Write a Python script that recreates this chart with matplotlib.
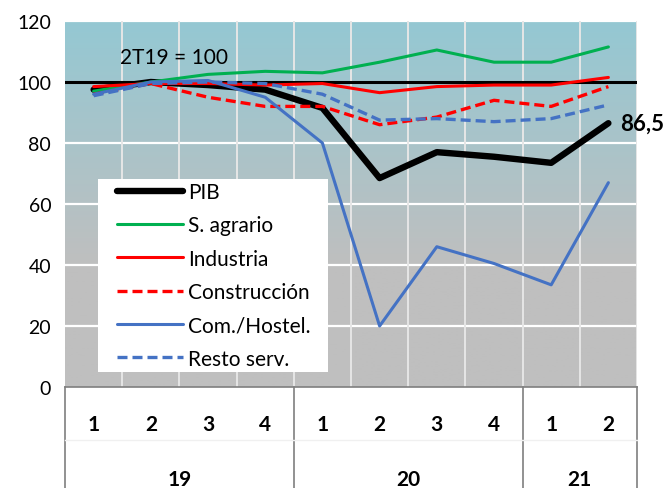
import numpy as np
import matplotlib

matplotlib.use("Agg")
import matplotlib.pyplot as plt
from matplotlib.colors import LinearSegmentedColormap
from matplotlib.patches import Rectangle

plt.rcParams["font.family"] = ["Lato", "DejaVu Sans"]

quarters = ["1", "2", "3", "4", "1", "2", "3", "4", "1", "2"]
years = ["19", "20", "21"]
year_spans = [4, 4, 2]

pib = [97.5, 100, 99, 97.5, 91.5, 68.5, 77, 75.5, 73.5, 86.5]
agrario = [97, 100, 102.5, 103.5, 103, 106.5, 110.5, 106.5, 106.5, 111.5]
industria = [98.5, 99.5, 99.5, 99, 99.5, 96.5, 98.5, 99, 99, 101.5]
construccion = [96, 99.5, 95, 92, 92, 86, 88.5, 94, 92, 98.5]
comercio = [96, 100, 100.5, 95, 80, 20, 46, 40.5, 33.5, 67]
resto = [95.5, 99.5, 100, 99.5, 96, 87.5, 88, 87, 88, 92.5]

dash = (0, (3.0, 1.5))
series = [
    ("PIB", pib, "black", "-", 4.6),
    ("S. agrario", agrario, "#00b050", "-", 2.2),
    ("Industria", industria, "#ff0000", "-", 2.2),
    ("Construcción", construccion, "#ff0000", dash, 2.4),
    ("Com./Hostel.", comercio, "#4472c4", "-", 2.2),
    ("Resto serv.", resto, "#4472c4", dash, 2.4),
]

fig = plt.figure(figsize=(6.67, 4.89), dpi=100)
ax = fig.add_axes([0.0975, 0.2065, 0.8575, 0.7485])
n = len(quarters)
x = np.arange(n)
ax.set_xlim(-0.5, n - 0.5)
ax.set_ylim(0, 120)

# background gradient: teal at top fading to grey around 40
cmap = LinearSegmentedColormap.from_list(
    "bg", [(0.0, "#bfbfbf"), (0.33, "#bfbfbf"), (1.0, "#94c8d3")]
)
grad = np.linspace(0, 1, 256).reshape(-1, 1)
ax.imshow(grad, extent=(-0.5, n - 0.5, 0, 120), origin="lower",
          aspect="auto", cmap=cmap, zorder=0)

for yv in [20, 40, 60, 80, 120]:
    ax.axhline(yv, color="white", lw=1.6, zorder=1)
for xv in np.arange(0.5, n - 0.5):
    ax.axvline(xv, color="#e6e6e6", lw=1.4, zorder=1)
ax.axvline(n - 0.5, color="#e6e6e6", lw=1.4, zorder=1)

ax.axhline(100, color="black", lw=2.2, zorder=2)

for label, vals, color, ls, lw in series:
    ax.plot(x, vals, color=color, ls=ls, lw=lw, label=label, zorder=3,
            solid_capstyle="round")

ax.text(1.4, 108.3, "2T19 = 100", fontsize=15, ha="center", va="center",
        zorder=4)
ax.text(n - 1 + 0.2, pib[-1], "86,5", fontsize=16, fontweight="bold",
        ha="left", va="center", clip_on=False, zorder=4)

ax.set_yticks(range(0, 121, 20))
ax.tick_params(axis="y", length=0, labelsize=14, pad=10)
ax.set_xticks([])
for s in ["top", "right", "left"]:
    ax.spines[s].set_visible(False)
ax.spines["bottom"].set_color("#7f7f7f")
ax.spines["bottom"].set_linewidth(1.2)

# two-level category axis drawn as a table below the plot
tr = ax.get_xaxis_transform()
for xi, q in zip(x, quarters):
    ax.text(xi, -0.1, q, transform=tr, ha="center", va="center",
            fontsize=15, fontweight="bold")
start = 0
bounds = [-0.5]
for yr, span in zip(years, year_spans):
    centre = start + (span - 1) / 2
    ax.text(centre, -0.25, yr, transform=tr, ha="center", va="center",
            fontsize=15, fontweight="bold")
    start += span
    bounds.append(start - 0.5)
for b in bounds:
    ax.plot([b, b], [0, -0.3], transform=tr, color="#7f7f7f", lw=1.2,
            clip_on=False)
ax.plot([-0.5, n - 0.5], [-0.145, -0.145], transform=tr, color="#f0f0f0",
        lw=1, clip_on=False)

# white legend box with wider side padding, legend drawn on top of it
ax.add_patch(Rectangle((0.058, 0.041), 0.402, 0.527, transform=ax.transAxes,
                       facecolor="white", edgecolor="none", zorder=5))
leg = ax.legend(loc="center left", bbox_to_anchor=(0.09, 0.305),
                borderaxespad=0, borderpad=0, fontsize=15, handlelength=3.2,
                handletextpad=0.25, labelspacing=0.64, frameon=False)
leg.set_zorder(6)

fig.savefig("out.png", dpi=100)
